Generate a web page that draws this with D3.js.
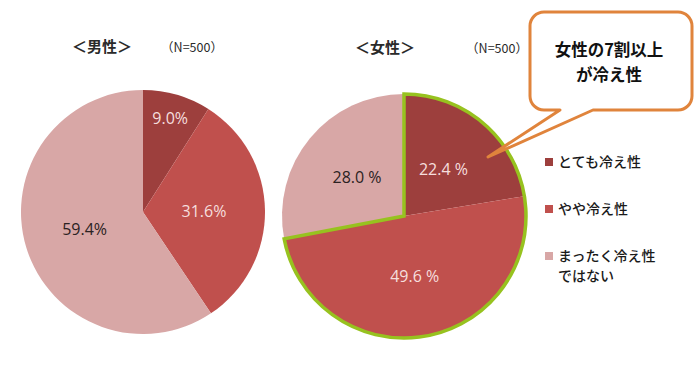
<!DOCTYPE html>
<html>
<head>
<meta charset="utf-8">
<script src="https://cdn.jsdelivr.net/npm/d3@7"></script>
<style>
  body { margin: 0; background: #fff; }
  svg { display: block; }
</style>
</head>
<body>
<svg id="chart" width="700" height="377"></svg>
<script>
// data
const categories = ["とても冷え性", "やや冷え性", "まったく冷え性ではない"];
const legendLines = [["とても冷え性"], ["やや冷え性"], ["まったく冷え性", "ではない"]];
const maleValues = [9.0, 31.6, 59.4];
const femaleValues = [22.4, 49.6, 28.0];
const maleTitle = "＜男性＞";
const femaleTitle = "＜女性＞";
const sampleText = "（N=500）";
const calloutLines = ["女性の7割以上", "が冷え性"];

const colors = ["#9d3f3d", "#c0504d", "#d8a7a6"];
const labelColors = ["#f6dedd", "#f6dedd", "#2b2222"];
const jpFont = "'Noto Sans CJK JP', 'Noto Sans', sans-serif";
const numFont = "'Open Sans', 'Noto Sans', sans-serif";

const svg = d3.select("#chart");
const radius = 122;

const pie = d3.pie().sort(null).value(d => d);
const arc = d3.arc().innerRadius(0).outerRadius(radius);

function drawPie(cx, cy, values, fmt) {
  const g = svg.append("g").attr("transform", "translate(" + cx + "," + cy + ")");
  const arcs = pie(values);

  g.selectAll(".slice")
    .data(arcs)
    .join("path")
    .attr("class", "slice")
    .attr("d", arc)
    .attr("fill", (d, i) => colors[i]);

  g.selectAll(".label")
    .data(arcs)
    .join("text")
    .attr("class", "label")
    .attr("transform", d => {
      // small slices get their label further out
      const r = radius * (d.data < 15 ? 0.8 : 0.5);
      const a = (d.startAngle + d.endAngle) / 2;
      return "translate(" + (Math.sin(a) * r) + "," + (-Math.cos(a) * r) + ")";
    })
    .attr("text-anchor", "middle")
    .attr("dy", "0.35em")
    .attr("font-family", numFont)
    .attr("font-size", 16)
    .attr("fill", (d, i) => labelColors[i])
    .text(d => fmt(d.data));
  return { g: g, arcs: arcs };
}

// male
drawPie(143, 212, maleValues, v => v.toFixed(1) + "%");

// female
const female = drawPie(404, 216, femaleValues, v => v.toFixed(1) + " %");

// green outline round the "cold" part
female.g.append("path")
  .attr("d", d3.arc().innerRadius(0).outerRadius(radius)({
    startAngle: female.arcs[0].startAngle,
    endAngle: female.arcs[1].endAngle
  }))
  .attr("fill", "none")
  .attr("stroke", "#97c21f")
  .attr("stroke-width", 3.5);

// titles
function title(x, y, txt, size, weight) {
  svg.append("text")
    .attr("x", x).attr("y", y)
    .attr("text-anchor", "middle")
    .attr("font-family", jpFont)
    .attr("font-size", size)
    .attr("font-weight", weight)
    .attr("fill", "#2a2a2a")
    .text(txt);
}
title(102, 52, maleTitle, 15, "bold");
title(192, 52, sampleText, 12.5, "normal");
title(385, 53, femaleTitle, 15, "bold");
title(497, 53, sampleText, 12.5, "normal");

// legend
const legend = svg.append("g").attr("transform", "translate(545,0)");
const legendY = [162, 209, 256];
legendLines.forEach((lines, i) => {
  legend.append("rect")
    .attr("x", 0).attr("y", legendY[i] - 4)
    .attr("width", 8).attr("height", 8)
    .attr("fill", colors[i]);
  lines.forEach((t, j) => {
    legend.append("text")
      .attr("x", 13).attr("y", legendY[i] + j * 20)
      .attr("dy", "0.35em")
      .attr("font-family", jpFont)
      .attr("font-size", 14)
      .attr("font-weight", 500)
      .attr("fill", "#1a1a1a")
      .text(t);
  });
});

// callout
const box = { x: 530, y: 12, w: 162, h: 98, r: 14 };
const tail = { x1: 560, x2: 593, tx: 488, ty: 157 };
const p = d3.path();
p.moveTo(box.x + box.r, box.y);
p.lineTo(box.x + box.w - box.r, box.y);
p.arcTo(box.x + box.w, box.y, box.x + box.w, box.y + box.r, box.r);
p.lineTo(box.x + box.w, box.y + box.h - box.r);
p.arcTo(box.x + box.w, box.y + box.h, box.x + box.w - box.r, box.y + box.h, box.r);
p.lineTo(tail.x2, box.y + box.h);
p.lineTo(tail.tx, tail.ty);
p.lineTo(tail.x1, box.y + box.h);
p.lineTo(box.x + box.r, box.y + box.h);
p.arcTo(box.x, box.y + box.h, box.x, box.y + box.h - box.r, box.r);
p.lineTo(box.x, box.y + box.r);
p.arcTo(box.x, box.y, box.x + box.r, box.y, box.r);
p.closePath();
svg.append("path")
  .attr("d", p.toString())
  .attr("fill", "#fff")
  .attr("stroke", "#e0843c")
  .attr("stroke-width", 3)
  .attr("stroke-linejoin", "round");

calloutLines.forEach((t, i) => {
  svg.append("text")
    .attr("x", 609).attr("y", 56 + i * 25)
    .attr("text-anchor", "middle")
    .attr("font-family", jpFont)
    .attr("font-size", 16.5)
    .attr("font-weight", "bold")
    .attr("fill", "#111")
    .text(t);
});
</script>
</body>
</html>
